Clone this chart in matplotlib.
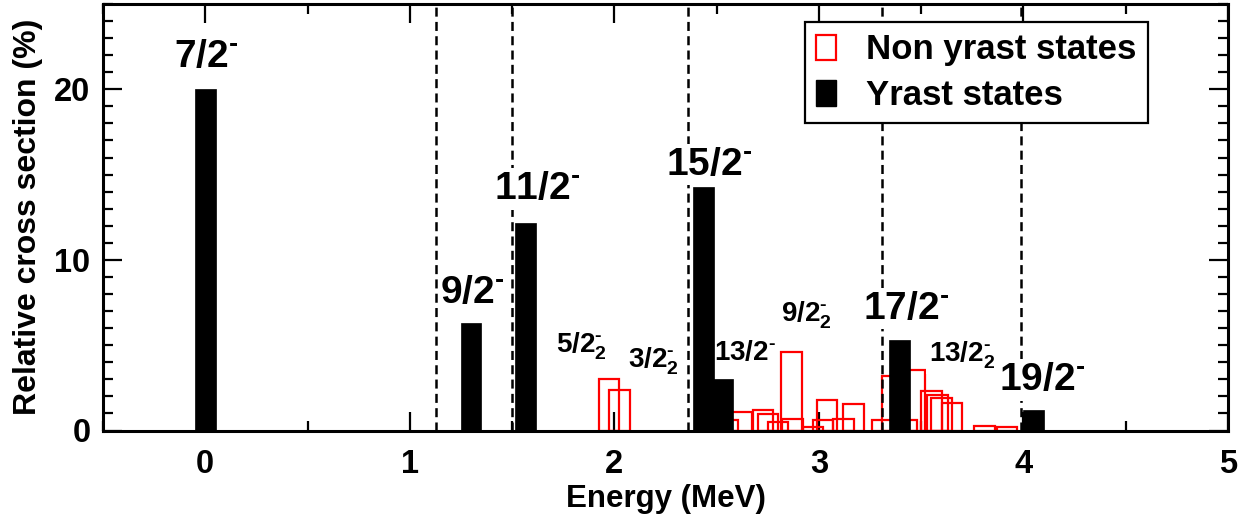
import matplotlib
matplotlib.use('Agg')
import matplotlib.pyplot as plt
from matplotlib.patches import Patch
from matplotlib.ticker import MultipleLocator

# ---- data ----
yrast_energy = [0.0, 1.30, 1.565, 2.435, 2.53, 3.395, 4.05]
yrast_xsec = [20.0, 6.3, 12.15, 14.3, 3.0, 5.3, 1.2]

nonyrast_energy = [1.973, 2.026, 2.555, 2.625, 2.727, 2.75, 2.80, 2.866, 2.87,
                   2.97, 3.02, 3.04, 3.12, 3.17, 3.31, 3.36, 3.43, 3.47, 3.55,
                   3.58, 3.60, 3.65, 3.81, 3.92]
nonyrast_xsec = [3.0, 2.35, 0.6, 1.07, 1.18, 0.94, 0.5, 4.6, 0.65,
                 0.2, 0.6, 1.8, 0.65, 1.53, 0.6, 3.2, 0.6, 3.55, 2.3,
                 2.1, 1.9, 1.6, 0.25, 0.2]

threshold_energy = [1.13, 1.50, 2.36, 3.31, 3.99]

state_labels = [r'$7/2^{\text{-}}$', r'$9/2^{\text{-}}$', r'$11/2^{\text{-}}$',
                r'$15/2^{\text{-}}$', r'$17/2^{\text{-}}$', r'$19/2^{\text{-}}$']
state_label_pos = [(0.005, 21.3), (1.307, 7.5), (1.62, 13.56), (2.463, 15.0),
                   (3.425, 6.56), (4.09, 2.38)]
small_labels = [r'$5/2_2^{\text{-}}$', r'$3/2_2^{\text{-}}$', r'$13/2^{\text{-}}$',
                r'$9/2_2^{\text{-}}$', r'$13/2_2^{\text{-}}$']
small_label_pos = [(1.84, 4.56), (2.19, 3.68), (2.64, 4.15), (2.94, 6.4),
                   (3.70, 4.05)]

# ---- style ----
plt.rcParams['font.family'] = ['Liberation Sans', 'DejaVu Sans']
plt.rcParams['font.weight'] = 'bold'
plt.rcParams['mathtext.fontset'] = 'custom'
plt.rcParams['mathtext.rm'] = 'Liberation Sans:bold'
plt.rcParams['mathtext.it'] = 'Liberation Sans:bold'
plt.rcParams['mathtext.bf'] = 'Liberation Sans:bold'
plt.rcParams['mathtext.sf'] = 'Liberation Sans:bold'
plt.rcParams['lines.scale_dashes'] = False

fig = plt.figure(figsize=(12.49, 5.27), dpi=100)
ax = fig.add_axes([103 / 1249, 1 - 430.5 / 527, 1125 / 1249, 426.5 / 527])

ax.bar(nonyrast_energy, nonyrast_xsec, width=0.1, fill=False,
       edgecolor='red', linewidth=1.6, zorder=2)
for e in threshold_energy:
    ax.axvline(e, color='black', linewidth=1.8, dashes=(6.5, 3.8), zorder=3)
ax.bar(yrast_energy, yrast_xsec, width=0.1, color='black',
       edgecolor='black', linewidth=0.5, zorder=6)

box = dict(facecolor='white', edgecolor='none', pad=2)
for t, (x, y) in zip(state_labels, state_label_pos):
    ax.text(x, y, t, fontsize=28, ha='center', va='baseline', zorder=5,
            bbox=box)
for t, (x, y) in zip(small_labels, small_label_pos):
    ax.text(x, y, t, fontsize=20, ha='center', va='baseline', zorder=5,
            bbox=box)

ax.set_xlim(-0.5, 5.0)
ax.set_ylim(0, 25)
ax.xaxis.set_major_locator(MultipleLocator(1))
ax.xaxis.set_minor_locator(MultipleLocator(0.5))
ax.yaxis.set_major_locator(MultipleLocator(10))
ax.yaxis.set_minor_locator(MultipleLocator(1))
ax.tick_params(which='both', direction='in', top=True, right=True, width=1.6)
ax.tick_params(which='major', length=14, labelsize=23.5)
ax.tick_params(axis='x', which='major', pad=13)
ax.tick_params(axis='y', which='major', pad=9)
ax.tick_params(which='minor', length=7)
for lab in ax.get_xticklabels() + ax.get_yticklabels():
    lab.set_fontweight('bold')
for s in ax.spines.values():
    s.set_linewidth(2.2)

ax.set_xlabel('Energy (MeV)', fontsize=22.5, fontweight='bold', labelpad=3)
ax.set_ylabel('Relative cross section (%)', fontsize=23, fontweight='bold',
              labelpad=8)

handles = [Patch(facecolor='none', edgecolor='red', linewidth=1.6),
           Patch(facecolor='black', edgecolor='black')]
leg = ax.legend(handles, ['Non yrast states', 'Yrast states'],
                loc='upper right',
                bbox_to_anchor=((1148 - 103) / 1125, (430.5 - 22) / 426.5),
                borderaxespad=0, prop={'weight': 'bold', 'size': 25},
                handlelength=0.58, handleheight=0.75, handletextpad=0.86,
                borderpad=0.33, labelspacing=0.36, fancybox=False,
                edgecolor='black', framealpha=1)
leg.get_frame().set_linewidth(1.6)
leg.set_zorder(7)

fig.savefig('out.png', dpi=100)
